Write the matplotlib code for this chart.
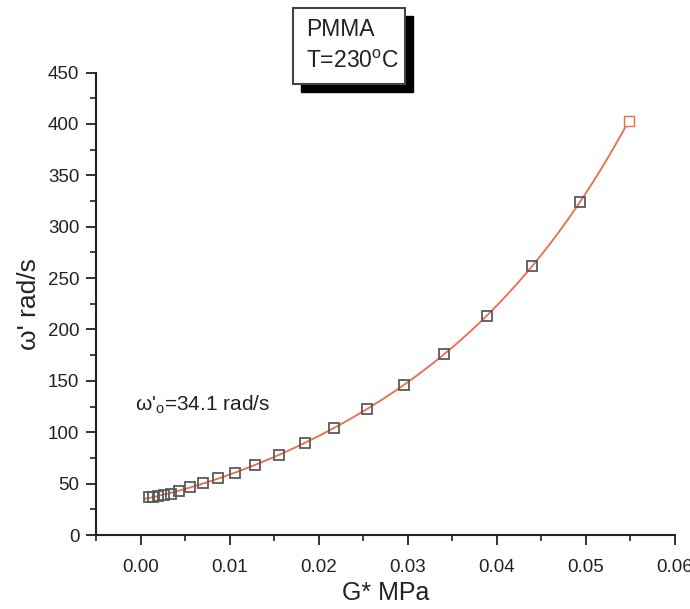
import numpy as np
import matplotlib
matplotlib.use("Agg")
import matplotlib.pyplot as plt
from matplotlib.patches import Rectangle
from matplotlib.ticker import MultipleLocator, FormatStrFormatter

plt.rcParams['font.family'] = ['Liberation Sans', 'DejaVu Sans']
plt.rcParams['mathtext.fontset'] = 'custom'
plt.rcParams['mathtext.rm'] = 'Liberation Sans'
plt.rcParams['mathtext.it'] = 'Liberation Sans:italic'
plt.rcParams['mathtext.bf'] = 'Liberation Sans:bold'

# data
g_star = [0.00097, 0.00145, 0.0020, 0.0026, 0.0034, 0.0043, 0.0056, 0.0070,
          0.0087, 0.0106, 0.0129, 0.0155, 0.0185, 0.0217, 0.0254, 0.0296,
          0.0341, 0.0389, 0.0440, 0.0493]
omega = [36.7, 37.3, 37.9, 38.8, 40.3, 43.0, 46.8, 50.3,
         55.2, 60.7, 68.2, 77.6, 89.3, 104.3, 123.0, 146.0,
         176.0, 213.5, 262.0, 323.6]
last_x = [0.0548]
last_y = [402.8]
omega0 = 34.1

xticks = [0.00, 0.01, 0.02, 0.03, 0.04, 0.05, 0.06]
yticks = [0, 50, 100, 150, 200, 250, 300, 350, 400, 450]

fig = plt.figure(figsize=(6.9, 6.09), dpi=100)
ax = fig.add_axes([96/690, 1-535/609, (675-96)/690, (535-72.5)/609])

# fitted curve (polynomial fit through data + intercept)
fx = np.array([0.0] + g_star + last_x)
fy = np.array([omega0] + omega + last_y)
coef = np.polyfit(fx, fy, 4)
xx = np.linspace(0.0005, last_x[0], 300)
ax.plot(xx, np.polyval(coef, xx), color='#ee6a4c', lw=1.3, zorder=2)

ax.plot(g_star, omega, ls='none', marker='s', ms=6.5, mfc='none',
        mec='#5a5a5a', mew=1.3, zorder=3)
ax.plot(last_x, last_y, ls='none', marker='s', ms=6.5, mfc='white',
        mec='#ee6a4c', mew=1.0, zorder=3)

ax.set_xlim(-0.005, 0.06)
ax.set_ylim(0, 450)
ax.set_xticks(xticks)
ax.set_yticks(yticks)
ax.xaxis.set_minor_locator(MultipleLocator(0.005))
ax.yaxis.set_minor_locator(MultipleLocator(25))
ax.xaxis.set_major_formatter(FormatStrFormatter('%.2f'))

for s in ['top', 'right']:
    ax.spines[s].set_visible(False)
for s in ['left', 'bottom']:
    ax.spines[s].set_linewidth(1.5)
    ax.spines[s].set_color('#222222')
ax.tick_params(which='major', direction='out', length=7, width=1.3,
               labelsize=13.5, colors='#222222', pad=5)
ax.tick_params(which='minor', direction='out', length=4, width=1.2, colors='#222222')
ax.tick_params(axis='x', pad=10)

ax.set_xlabel('G* MPa', fontsize=18, labelpad=4, color='#222222')
ax.set_ylabel("ω' rad/s", fontsize=19, labelpad=5, color='#222222')

ax.text(135/690, 1-411/609, r"ω'$_{\mathregular{o}}$=34.1 rad/s",
        transform=fig.transFigure, fontsize=15, color='#222222',
        ha='left', va='baseline')

# title box with shadow
W, H = 690, 609
fig.patches.append(Rectangle((301/W, 1-91.5/H), 112/W, 76/H,
                             transform=fig.transFigure, facecolor='black',
                             edgecolor='black', zorder=1))
fig.patches.append(Rectangle((293/W, 1-83.5/H), 112/W, 76/H,
                             transform=fig.transFigure, facecolor='white',
                             edgecolor='#444444', lw=1.5, zorder=2))
fig.text(306/W, 1-30/H, 'PMMA', fontsize=16.5, va='center', ha='left',
         color='#222222', zorder=3)
fig.text(306/W, 1-62/H, r'T=230$^{\mathregular{o}}$C', fontsize=16.5,
         va='center', ha='left', color='#222222', zorder=3)

fig.savefig('out.png', dpi=100)
